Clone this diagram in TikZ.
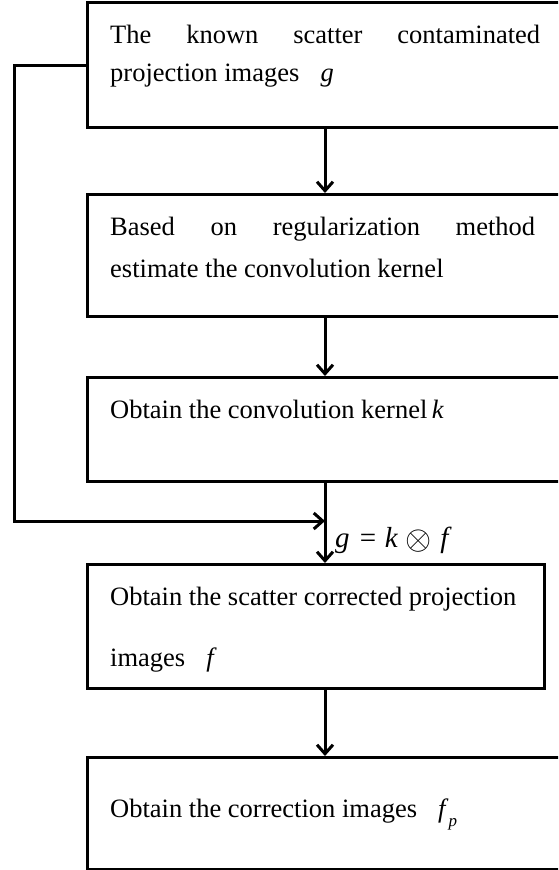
\documentclass[tikz,border=0pt]{standalone}
\usepackage{fontspec}
\setmainfont{Liberation Serif}
\usetikzlibrary{arrows.meta}
\tikzset{
  box/.style={draw, line width=3.3pt, rectangle, inner sep=0pt, anchor=north west},
  txt/.style={anchor=base west, inner sep=0pt, font=\fontsize{26.5}{32}\selectfont},
  arr/.style={line width=3pt, -{Straight Barb[length=9pt,width=16pt,line width=3pt]}},
  plain/.style={line width=3pt}
}
\begin{document}
\begin{tikzpicture}[x=1pt,y=-1pt]
\useasboundingbox (0,0) rectangle (558,870);
\clip (0,0) rectangle (558,870);
% boxes
\node[box, minimum width=484pt, minimum height=125pt] (b1) at (86,1) {};
\node[box, minimum width=484pt, minimum height=122pt] (b2) at (86,193) {};
\node[box, minimum width=484pt, minimum height=104pt] (b3) at (86,376) {};
\node[box, minimum width=457pt, minimum height=124pt] (b4) at (86,563) {};
\node[box, minimum width=484pt, minimum height=112pt] (b5) at (86,756) {};
% texts
\node[txt] (t1a) at (110,43) {\makebox[430pt][s]{The known scatter contaminated}};
\node[txt] (t1b) at (110,81) {projection images\hspace{0.8em}\textit{g}};
\node[txt] (t2a) at (110,235) {\makebox[425pt][s]{Based on regularization method}};
\node[txt] (t2b) at (110,277) {estimate the convolution kernel};
\node[txt] (t3) at (110,418) {Obtain the convolution kernel\,\textit{k}};
\node[txt] (t4a) at (110,605) {Obtain the scatter corrected projection};
\node[txt] (t4b) at (110,666) {images\hspace{0.8em}\textit{f}};
\node[txt] (t5) at (110,817) {Obtain the correction images\hspace{0.8em}\textit{f}\raisebox{-0.35em}{\fontsize{17}{20}\selectfont\textit{p}}};
\node[txt, font=\fontsize{29}{32}\selectfont] (eq) at (335,547) {\textit{g}\hspace{0.35em}=\hspace{0.3em}\textit{k}\hspace{0.25em}\raisebox{-0.08em}{\scalebox{1.35}{$\otimes$}}\hspace{0.3em}\textit{f}};
% connectors
\coordinate (fb) at (14,521);
\coordinate (join) at (325,521);
\draw[arr] (b1.south -| join) -- (b2.north -| join);
\draw[arr] (b2.south -| join) -- (b3.north -| join);
\draw[plain] (b3.south -| join) -- (join);
\draw[arr] (join) -- (b4.north -| join);
\draw[arr] (b1.west) -| (fb) -- (join);
\draw[arr] (b4.south -| join) -- (b5.north -| join);
\end{tikzpicture}
\end{document}
